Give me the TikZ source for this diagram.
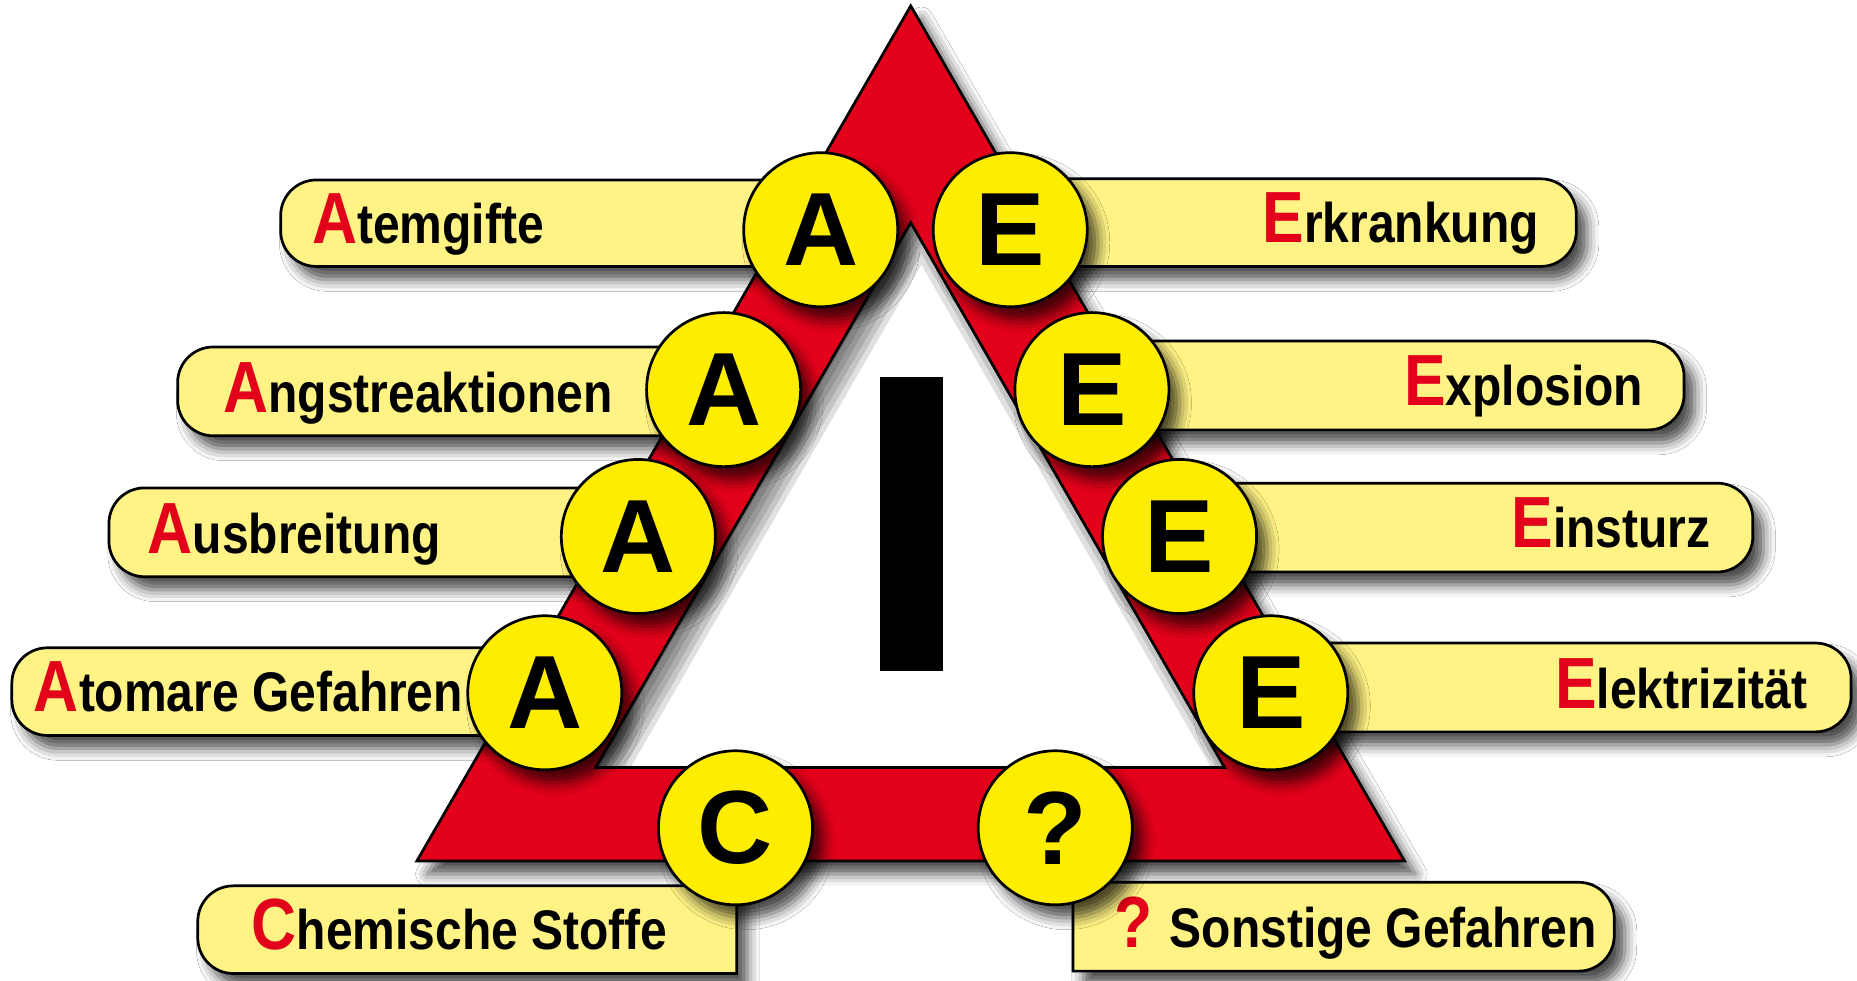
\documentclass[tikz,border=0pt]{standalone}
\usepackage{fontspec}
\setmainfont{Liberation Sans}
\newfontfamily\narrowfont{Liberation Sans}[FakeStretch=0.86]
\usetikzlibrary{shadows.blur,calc}
\definecolor{tred}{HTML}{E2001A}
\definecolor{cyel}{HTML}{FFED00}
\definecolor{pyel}{HTML}{FFF385}
\tikzset{
 shad/.style={blur shadow={shadow xshift=0.09cm, shadow yshift=-0.11cm, shadow blur radius=0.1cm, shadow opacity=70}},
 pill/.style={draw=black, line width=0.65pt, fill=pyel, shad},
 disc/.style={circle, draw=black, line width=0.65pt, fill=cyel, minimum size=1.3cm, inner sep=0pt, font=\fontsize{25}{30}\selectfont\bfseries, shad},
 lab/.style={font=\narrowfont\bfseries\fontsize{13.4}{16}\selectfont, inner sep=0pt},
}
\newcommand{\ini}[1]{{\fontsize{17.4}{20}\selectfont\color{tred}#1}}
\begin{document}
\begin{tikzpicture}[x=0.01cm,y=0.01cm]
\useasboundingbox (0,0) rectangle (1568,828);
\fill[white] (0,0) rectangle (1568,828);
% warning triangle
\coordinate (o1) at (769,823);
\coordinate (o2) at (352,101);
\coordinate (o3) at (1186,101);
\coordinate (i1) at (769,640);
\coordinate (i2) at (503,180);
\coordinate (i3) at (1034,180);
\coordinate (sc) at (778,322.3);
\coordinate (s1) at (778,629);
\coordinate (s2) at (512,169);
\coordinate (s3) at (1043,169);
\path[fill=tred, shad] (o1) -- (o2) -- (o3) -- cycle;
\fill[white] (i1) -- (i2) -- (i3) -- cycle;
\begin{scope}
\clip (i1) -- (i2) -- (i3) -- cycle;
\foreach \f in {0.92,0.95,0.98,1.01,1.04,1.07}
  \fill[black, opacity=0.12, even odd rule] (-50,-50) rectangle (1650,900)
    ($(sc)!\f!(s1)$) -- ($(sc)!\f!(s2)$) -- ($(sc)!\f!(s3)$) -- cycle;
\end{scope}
\draw[line width=0.65pt] (o1) -- (o2) -- (o3) -- cycle (i1) -- (i2) -- (i3) -- cycle;
\fill[black] (743,261) rectangle (796,510);
% left pills
\draw[pill, rounded corners=0.3cm] (237,603) rectangle (693,676);
\draw[pill, rounded corners=0.3cm] (150,460) rectangle (611,535);
\draw[pill, rounded corners=0.3cm] (92,341) rectangle (539,416);
\draw[pill, rounded corners=0.3cm] (10,207) rectangle (460,281);
\draw[pill] (622,6) -- (622,80) -- (197,80) arc[start angle=90, end angle=180, radius=0.3cm]
  -- (167,36) arc[start angle=180, end angle=270, radius=0.3cm] -- cycle;
% right pills
\draw[pill, rounded corners=0.3cm] (853,603) rectangle (1331,677);
\draw[pill, rounded corners=0.3cm] (922,465) rectangle (1422,540);
\draw[pill, rounded corners=0.3cm] (996,345) rectangle (1480,420);
\draw[pill, rounded corners=0.3cm] (1073,210) rectangle (1563,285);
\draw[pill] (906,8) -- (906,83) -- (1333,83) arc[start angle=90, end angle=0, radius=0.3cm]
  -- (1363,38) arc[start angle=0, end angle=-90, radius=0.3cm] -- cycle;
% labels
\node[lab, anchor=base west] (t1) at (263,622) {\ini{A}temgifte};
\node[lab, anchor=base west] (t2) at (188,480) {\ini{A}ngstreaktionen};
\node[lab, anchor=base west] (t3) at (124,361) {\ini{A}usbreitung};
\node[lab, anchor=base west] (t4) at (28,227) {\ini{A}tomare Gefahren};
\node[lab, anchor=base west] (t5) at (212,26) {\ini{C}hemische Stoffe};
\node[lab, anchor=base east] (t6) at (1300,623) {\ini{E}rkrankung};
\node[lab, anchor=base east] (t7) at (1388,486) {\ini{E}xplosion};
\node[lab, anchor=base east] (t8) at (1445,366) {\ini{E}insturz};
\node[lab, anchor=base east] (t9) at (1527,230) {\ini{E}lektrizität};
\node[lab, anchor=base west] (t10) at (940,28) {\ini{?} Sonstige Gefahren};
% discs
\node[disc] (a1) at (693,634) {A};
\node[disc] (a2) at (611,499) {A};
\node[disc] (a3) at (539,375) {A};
\node[disc] (a4) at (460,243) {A};
\node[disc] (e1) at (853,634) {E};
\node[disc] (e2) at (922,499) {E};
\node[disc] (e3) at (996,375) {E};
\node[disc] (e4) at (1073,243) {E};
\node[disc] (c1) at (621,129) {C};
\node[disc] (q1) at (891,129) {?};
\end{tikzpicture}
\end{document}
